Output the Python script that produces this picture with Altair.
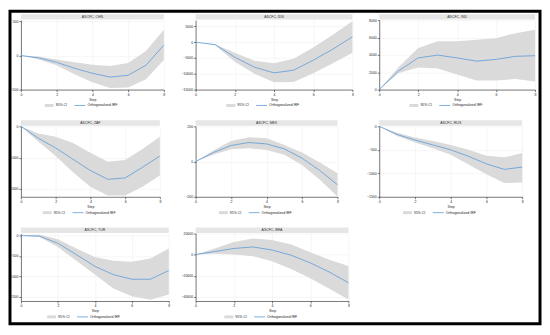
import altair as alt
import pandas as pd

steps = [0, 1, 2, 3, 4, 5, 6, 7, 8]
titles = ["ASCFC, CHN", "ASCFC, IDN", "ASCFC, IND", "ASCFC, ZAF",
          "ASCFC, MEX", "ASCFC, RUS", "ASCFC, TUR", "ASCFC, BRA"]
x_ticks = [0, 2, 4, 6, 8]
legend_ci = "95% CI"
legend_irf = "Orthogonalized IRF"

irf_chn = [0, -35, -100, -187, -260, -317, -290, -143, 152]
hi_chn = [0, -13, -57, -100, -135, -152, -109, 65, 378]
lo_chn = [0, -57, -143, -274, -391, -478, -470, -348, -65]
ydom_chn = [-500, 520]
yticks_chn = [-500, 0, 500]

irf_idn = [0, -760, -4760, -7900, -9710, -8860, -5710, -2190, 1710]
hi_idn = [0, -700, -3330, -5900, -6670, -5240, -1710, 2380, 6670]
lo_idn = [0, -950, -6190, -10000, -12670, -12570, -9810, -6670, -3330]
ydom_idn = [-15000, 7000]
yticks_idn = [-15000, -10000, -5000, 0, 5000]

irf_ind = [0, 2160, 3650, 3970, 3650, 3270, 3480, 3830, 3900]
hi_ind = [0, 2610, 4800, 5570, 5570, 5740, 5910, 6500, 6890]
lo_ind = [0, 1910, 2540, 2430, 1740, 1040, 1040, 1220, 940]
ydom_ind = [0, 8000]
yticks_ind = [0, 2000, 4000, 6000, 8000]

irf_zaf = [0, -381, -691, -1052, -1412, -1691, -1649, -1309, -948]
hi_zaf = [0, -227, -330, -536, -845, -1134, -1072, -722, -330]
lo_zaf = [0, -485, -948, -1464, -1928, -2206, -2206, -1928, -1567]
ydom_zaf = [-2250, 0]
yticks_zaf = [-2000, -1000, 0]

irf_mex = [0, 51, 91, 108, 100, 72, 19, -51, -132]
hi_mex = [0, 62, 117, 138, 132, 94, 51, -6, -66]
lo_mex = [0, 38, 70, 75, 66, 38, -19, -104, -198]
ydom_mex = [-200, 200]
yticks_mex = [-200, 0, 200]

irf_rus = [0, -174, -292, -396, -500, -639, -799, -917, -868]
hi_rus = [0, -139, -236, -313, -396, -500, -625, -660, -569]
lo_rus = [0, -208, -347, -465, -604, -813, -1021, -1208, -1194]
ydom_rus = [-1500, 0]
yticks_rus = [-1500, -1000, -500, 0]

irf_tur = [0, -15, -188, -466, -752, -955, -1068, -1068, -857]
hi_tur = [0, 23, -90, -316, -526, -617, -639, -564, -316]
lo_tur = [0, -38, -278, -617, -955, -1293, -1481, -1571, -1444]
ydom_tur = [-1600, 50]
yticks_tur = [-1500, -1000, -500, 0]

irf_bra = [0, 2900, 5800, 7250, 4350, -580, -7830, -16520, -26670]
hi_bra = [0, 5800, 11880, 15360, 13910, 9570, 2320, -4930, -10720]
lo_bra = [0, 870, 0, -1450, -6380, -13620, -22320, -32460, -42610]
ydom_bra = [-44000, 20000]
yticks_bra = [-40000, -20000, 0, 20000]

CI_COLOR = "#dadada"
LINE_COLOR = "#5b9bd8"
FS = 3.5
FONT = "Liberation Sans, Arial, sans-serif"


def panel(title, irf, lo, hi, ydom, yticks, w, h, frame=False):
    df = pd.DataFrame({"step": steps, "irf": irf, "lo": lo, "hi": hi})
    xs = alt.Scale(domain=[0, 8], nice=False)
    xa = alt.Axis(values=x_ticks, title="Step", grid=True, format="d")
    ys = alt.Scale(domain=ydom, nice=False, zero=False)
    ya = alt.Axis(values=yticks, title=None, grid=True, format="d")
    base = alt.Chart(df)
    area = base.mark_area(color=CI_COLOR, opacity=1).encode(
        x=alt.X("step:Q", scale=xs, axis=xa),
        y=alt.Y("lo:Q", scale=ys, axis=ya),
        y2="hi:Q",
    )
    line = base.mark_line(color=LINE_COLOR, strokeWidth=0.8).encode(
        x=alt.X("step:Q", scale=xs, axis=xa),
        y=alt.Y("irf:Q", scale=ys, axis=ya),
    )
    one = alt.Chart(pd.DataFrame({"t": [title]}))
    strip = one.mark_rect(color="#e6e6e6").encode(
        x=alt.value(0), x2=alt.value(w), y=alt.value(-6), y2=alt.value(-0.5)
    )
    ttl = one.mark_text(fontSize=FS, color="#333", font=FONT).encode(
        x=alt.value(w / 2), y=alt.value(-3.2), text="t:N"
    )
    cx = w / 2
    ly = h + 16
    sw = one.mark_rect(color=CI_COLOR).encode(
        x=alt.value(cx - 48), x2=alt.value(cx - 39),
        y=alt.value(ly - 1.5), y2=alt.value(ly + 1.5)
    )
    t1 = one.mark_text(text=legend_ci, fontSize=FS, align="left", baseline="middle",
                       color="#222", font=FONT).encode(
        x=alt.value(cx - 37), y=alt.value(ly)
    )
    ln = one.mark_rule(color=LINE_COLOR, strokeWidth=0.8).encode(
        x=alt.value(cx - 18), x2=alt.value(cx - 7), y=alt.value(ly)
    )
    t2 = one.mark_text(text=legend_irf, fontSize=FS, align="left", baseline="middle",
                       color="#222", font=FONT).encode(
        x=alt.value(cx - 5), y=alt.value(ly)
    )
    layers = [area, line, strip, ttl, sw, t1, ln, t2]
    if frame:
        fr = one.mark_rect(filled=False, stroke="black", strokeWidth=3).encode(
            x=alt.value(-11), x2=alt.value(523), y=alt.value(-9), y2=alt.value(306)
        )
        layers.append(fr)
    return alt.layer(*layers).properties(width=w, height=h)


p1 = panel(titles[0], irf_chn, lo_chn, hi_chn, ydom_chn, yticks_chn, 144, 70, frame=True)
p2 = panel(titles[1], irf_idn, lo_idn, hi_idn, ydom_idn, yticks_idn, 158, 70)
p3 = panel(titles[2], irf_ind, lo_ind, hi_ind, ydom_ind, yticks_ind, 157, 70)
p4 = panel(titles[3], irf_zaf, lo_zaf, hi_zaf, ydom_zaf, yticks_zaf, 140, 71)
p5 = panel(titles[4], irf_mex, lo_mex, hi_mex, ydom_mex, yticks_mex, 143, 71)
p6 = panel(titles[5], irf_rus, lo_rus, hi_rus, ydom_rus, yticks_rus, 144, 71)
p7 = panel(titles[6], irf_tur, lo_tur, hi_tur, ydom_tur, yticks_tur, 149, 68)
p8 = panel(titles[7], irf_bra, lo_bra, hi_bra, ydom_bra, yticks_bra, 154, 68)

chart = alt.concat(
    p1, p2, p3, p4, p5, p6, p7, p8,
    columns=3,
    spacing={"row": 37, "column": 27},
    bounds="flush",
    align="each",
).properties(padding=0, background="white").configure_view(stroke=None).configure_axis(
    labelFontSize=FS, titleFontSize=FS, titleFontWeight="normal",
    labelFont=FONT, titleFont=FONT,
    domainColor="#222", tickColor="#222", labelColor="#222", titleColor="#222",
    domainWidth=0.6, tickWidth=0.6, tickSize=2, labelPadding=1, titlePadding=1,
    gridColor="#ececec", gridWidth=0.5, labelFlush=False,
)

chart.save("out.html", embed_options={"renderer": "svg", "actions": False})
